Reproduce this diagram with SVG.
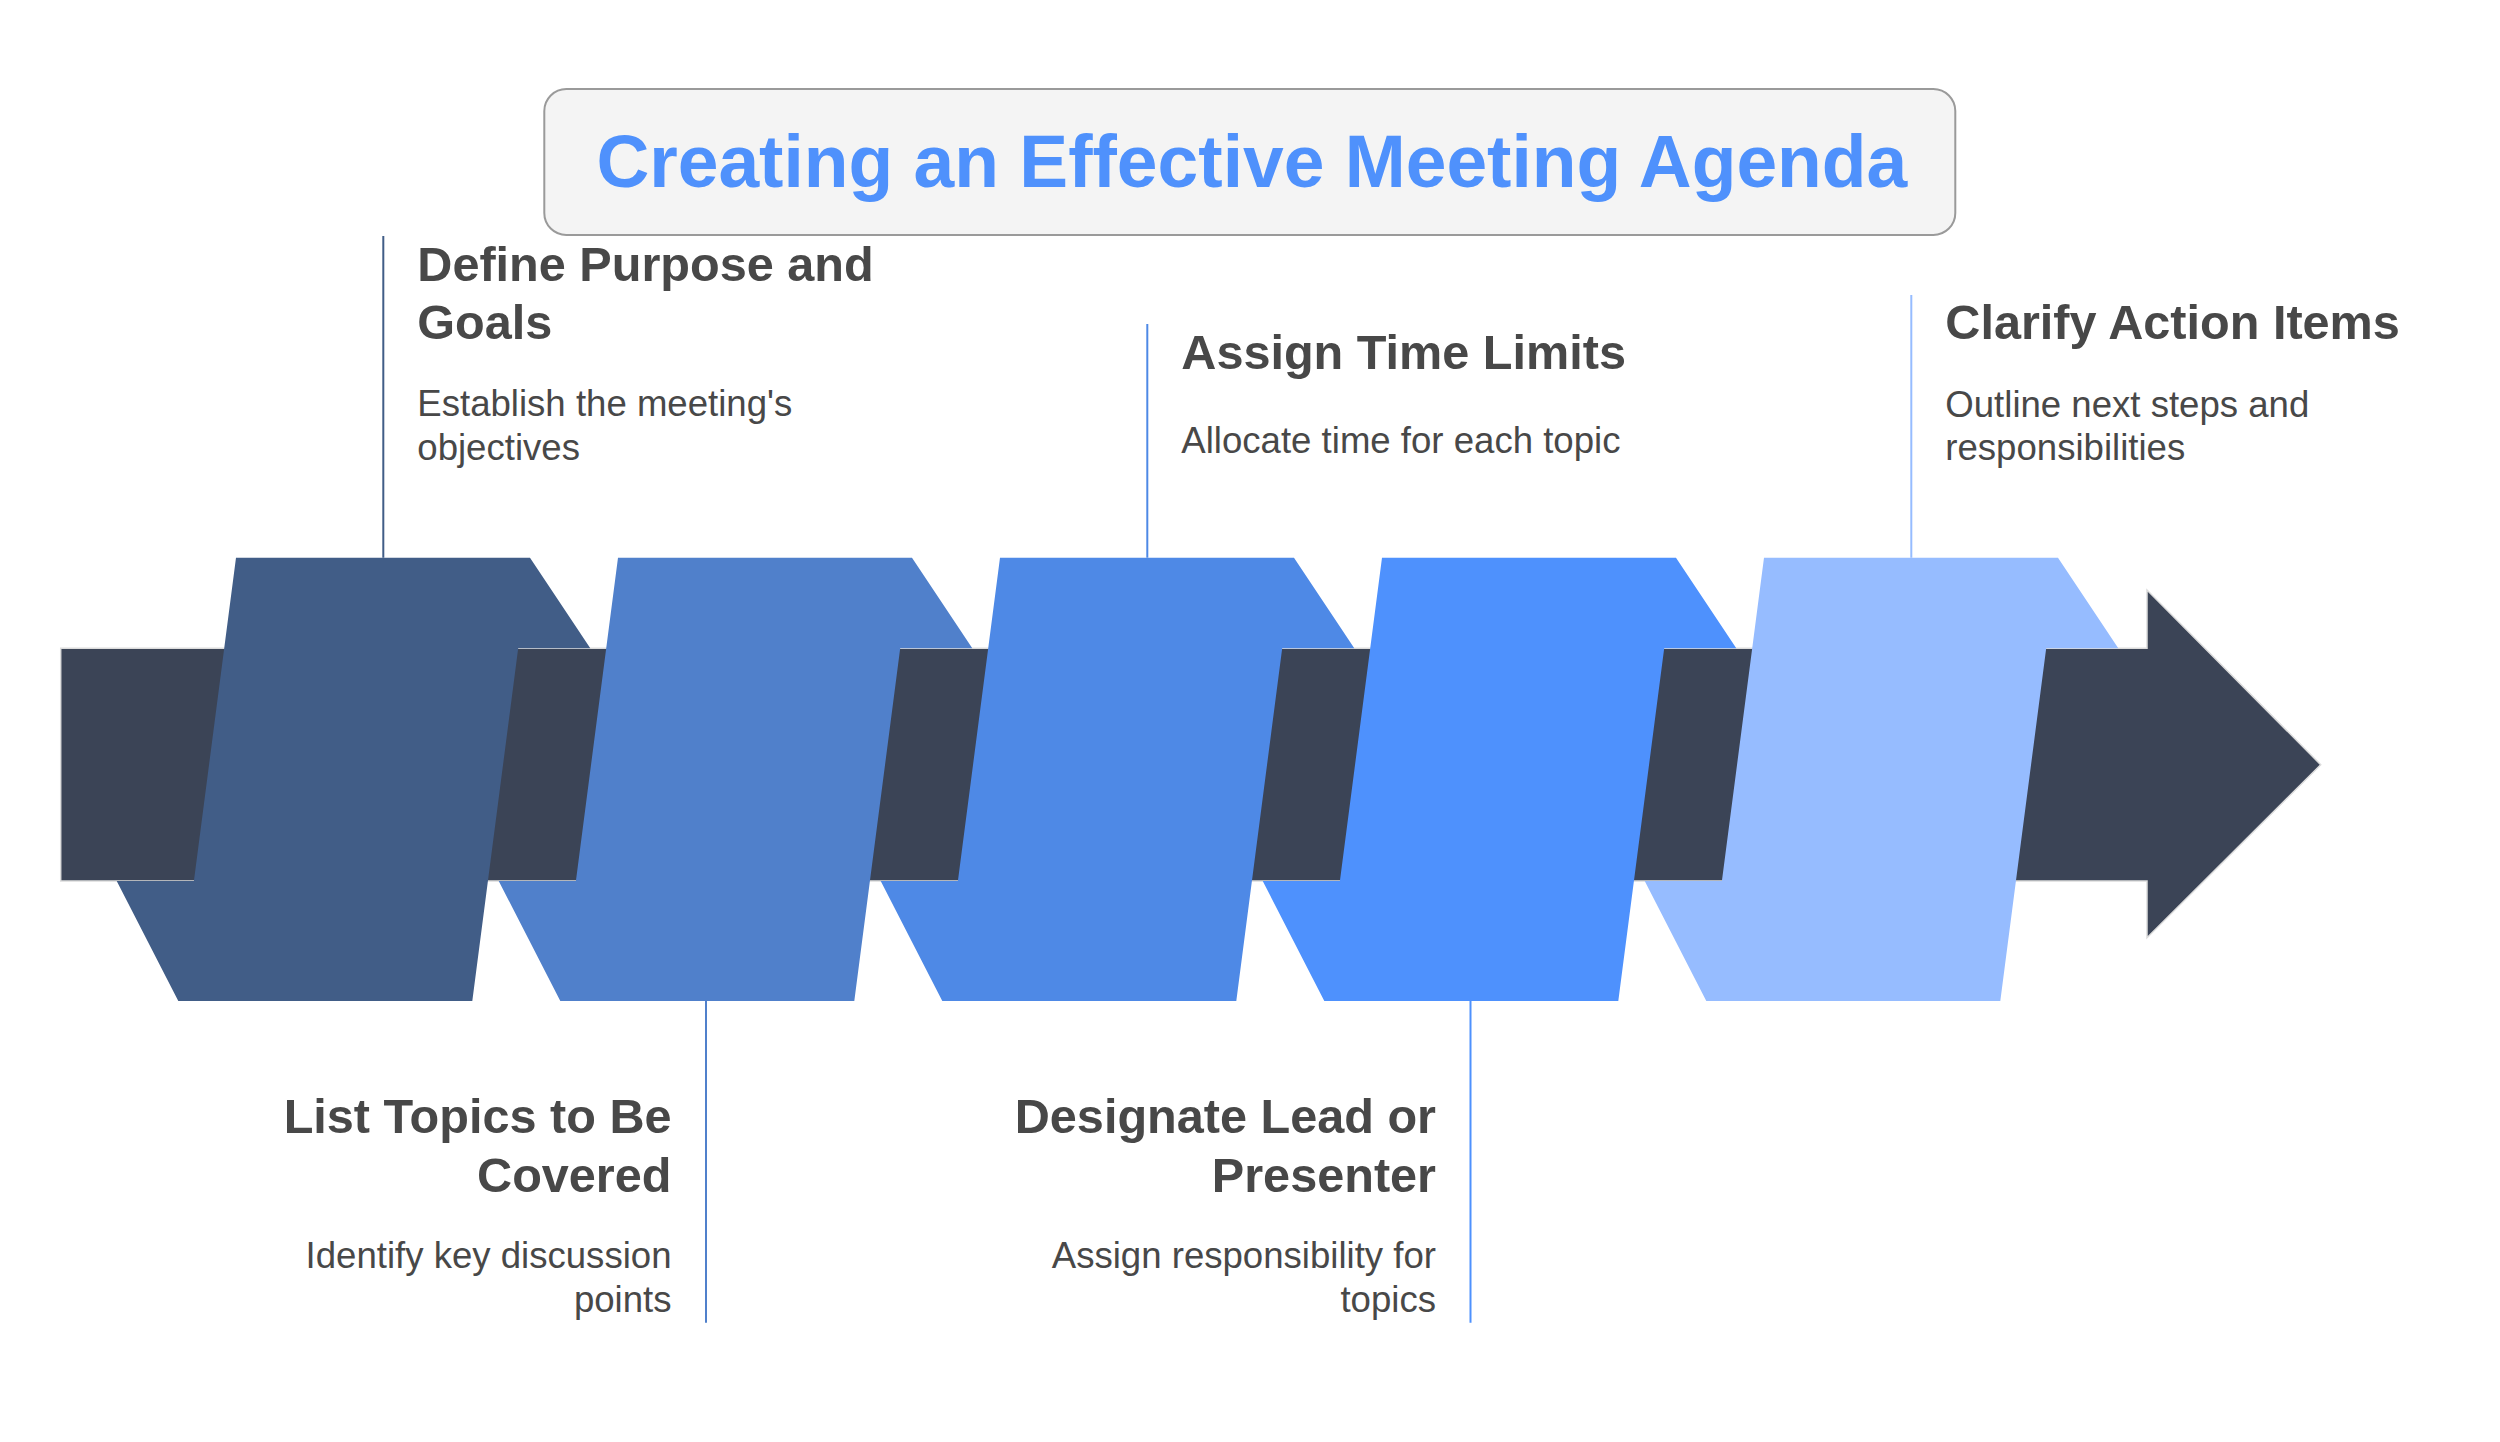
<svg xmlns="http://www.w3.org/2000/svg" width="2500" height="1442" viewBox="0 0 2500 1442">
  <style>
    .title { font-family: "Liberation Sans", Arial, Helvetica, sans-serif; font-weight: bold; font-size: 73.2px; fill: #4f91fc; }
    .head { font-family: "Liberation Sans", Arial, Helvetica, sans-serif; font-weight: bold; font-size: 48.6px; fill: #484848; }
    .desc { font-family: "Liberation Sans", Arial, Helvetica, sans-serif; font-size: 36.6px; fill: #484848; }
    .end { text-anchor: end; }
    .conn { stroke-width: 2; fill: none; }
  </style>
  <rect width="2500" height="1442" fill="#ffffff"/>

  <g id="title">
    <rect x="544.3" y="89" width="1411" height="146" rx="22" ry="22" fill="#f4f4f4" stroke="#9a9a9a" stroke-width="2"/>
    <text class="title" x="1251.8" y="186.7" text-anchor="middle">Creating an Effective Meeting Agenda</text>
  </g>

  <g id="timeline-arrow">
    <polygon points="60.7,648.3 2147,648.3 2147,590 2320.7,764.7 2147,937.7 2147,881 60.7,881" fill="#3b4456" stroke="#dcdcdc" stroke-width="1.5"/>
  </g>

  <g id="connectors">
    <line class="conn" x1="383.3" y1="236" x2="383.3" y2="557.7" stroke="#415d87"/>
    <line class="conn" x1="706" y1="1001" x2="706" y2="1322.7" stroke="#5080cb"/>
    <line class="conn" x1="1147.3" y1="324" x2="1147.3" y2="557.7" stroke="#4e89e6"/>
    <line class="conn" x1="1470.5" y1="1001" x2="1470.5" y2="1322.7" stroke="#4e91fd"/>
    <line class="conn" x1="1911.3" y1="295" x2="1911.3" y2="557.7" stroke="#96bcff"/>
  </g>

  <g id="step-1">
    <polygon points="236,557.7 530,557.7 590.3,648.3 518.2,648.3 472.3,1001 178.3,1001 116.7,881 193.9,881" fill="#415d87"/>
    <text class="head" x="417.3" y="281">Define Purpose and</text>
    <text class="head" x="417.3" y="338.6">Goals</text>
    <text class="desc" x="417.3" y="416">Establish the meeting's</text>
    <text class="desc" x="417.3" y="460">objectives</text>
  </g>

  <g id="step-2">
    <polygon points="618,557.7 912,557.7 972.3,648.3 900.2,648.3 854.3,1001 560.3,1001 498.7,881 575.9,881" fill="#5080cb"/>
    <text class="head end" x="671.5" y="1132.7">List Topics to Be</text>
    <text class="head end" x="671.5" y="1191.7">Covered</text>
    <text class="desc end" x="671.5" y="1268.3">Identify key discussion</text>
    <text class="desc end" x="671.5" y="1311.7">points</text>
  </g>

  <g id="step-3">
    <polygon points="1000,557.7 1294,557.7 1354.3,648.3 1282.2,648.3 1236.3,1001 942.3,1001 880.7,881 957.9,881" fill="#4e89e6"/>
    <text class="head" x="1181.3" y="369.3">Assign Time Limits</text>
    <text class="desc" x="1181.3" y="453.3">Allocate time for each topic</text>
  </g>

  <g id="step-4">
    <polygon points="1382,557.7 1676,557.7 1736.3,648.3 1664.2,648.3 1618.3,1001 1324.3,1001 1262.7,881 1339.9,881" fill="#4e91fd"/>
    <text class="head end" x="1436" y="1132.7">Designate Lead or</text>
    <text class="head end" x="1436" y="1191.7">Presenter</text>
    <text class="desc end" x="1436" y="1268.3">Assign responsibility for</text>
    <text class="desc end" x="1436" y="1311.7">topics</text>
  </g>

  <g id="step-5">
    <polygon points="1764,557.7 2058,557.7 2118.3,648.3 2046.2,648.3 2000.3,1001 1706.3,1001 1644.7,881 1721.9,881" fill="#96bcff"/>
    <text class="head" x="1945.3" y="339.3">Clarify Action Items</text>
    <text class="desc" x="1945.3" y="416.7">Outline next steps and</text>
    <text class="desc" x="1945.3" y="460">responsibilities</text>
  </g>
</svg>
